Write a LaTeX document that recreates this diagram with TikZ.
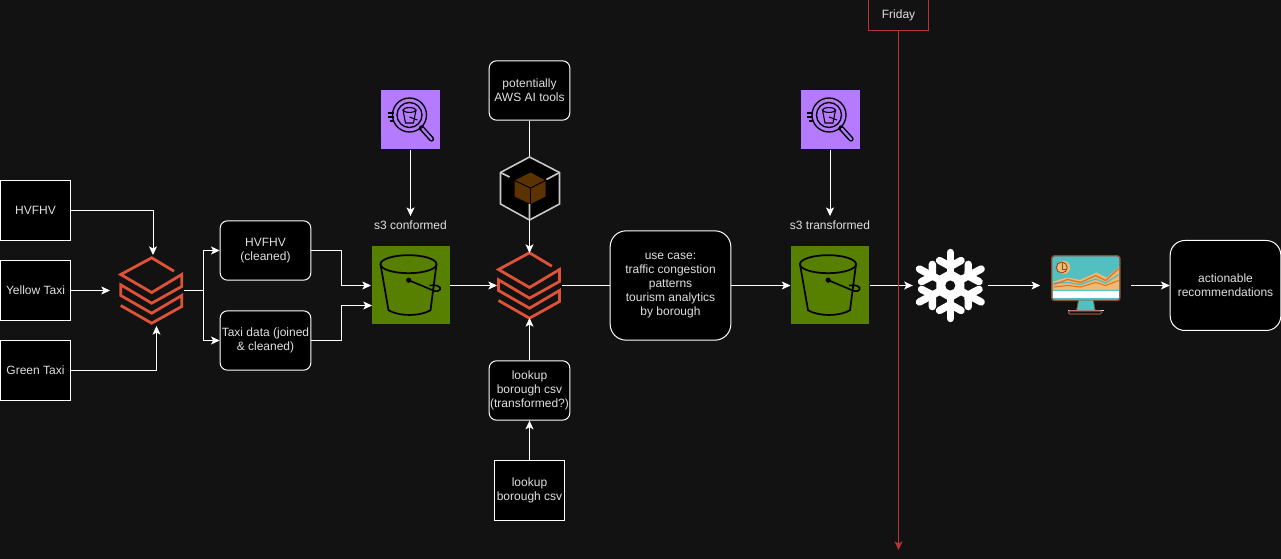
\documentclass[tikz,border=0pt]{standalone}
\usepackage{fontspec}
\setmainfont{Liberation Sans}
\usepackage{tikz}
\usetikzlibrary{arrows,arrows.meta}

\definecolor{bgdark}{HTML}{121212}
\definecolor{labelgrey}{HTML}{E0E0E0}
\definecolor{hexgrey}{HTML}{C8C8C8}
\definecolor{dbred}{HTML}{DE5238}
\definecolor{bucketgreen}{HTML}{577F00}
\definecolor{searchpurple}{HTML}{B57BFF}
\definecolor{cubebrown}{HTML}{5C3200}
\definecolor{fridayred}{HTML}{B83434}
\definecolor{screenteal}{HTML}{52BFC0}
\definecolor{screenbrown}{HTML}{8A4A2E}
\definecolor{screensand}{HTML}{F0B870}
\definecolor{screenorange}{HTML}{D9782B}

\tikzset{
  txt/.style={text=labelgrey,font=\fontsize{9}{10.5}\selectfont,align=center},
  sqbox/.style={txt,draw=white,fill=black,line width=0.75pt,minimum width=52.5pt,minimum height=44.5pt,inner sep=0pt},
  rbox/.style={sqbox,rounded corners=5.5pt,minimum width=60.5pt},
  icon/.style={inner sep=0pt,minimum width=#1*0.75pt,minimum height=#1*0.75pt},
  every pic/.style={-},
  pics/databricks/.style={code={
    \draw[dbred,line width=2.1pt,miter limit=4]
      (22.3,-19.3) -- (0,-32.7) -- (-31,-16) -- (0,2) -- (30,-16) -- (30,-4) -- (0,12.7)
      -- (-31,-5.7) -- (-31,5) -- (0,22.7) -- (30,5) -- (30,16) -- (0,32.7) -- (-31,15);
  }},
  pics/bucket/.style={code={
    \fill[bucketgreen] (-39,-39) rectangle (39,39);
    \draw[black,line width=1.3pt] (-2,-21.3) ellipse [x radius=28,y radius=9];
    \draw[black,line width=1.3pt] (-30,-21.3) -- (-22,24.7) .. controls (-12,31) and (10,31) .. (20,24.7) -- (26,-21.3);
    \fill[black] (-1.8,-5.3) circle (2.6);
    \draw[black,line width=1.2pt] (-1.8,-5.3) -- (23.5,5.3) .. controls (30,7) and (32,2) .. (27,0.3) .. controls (25,-0.5) and (22,-0.5) .. (19,0);
  }},
  pics/search/.style={code={
    \fill[searchpurple] (-29.5,-29.5) rectangle (29.5,29.5);
    \draw[black,line width=1pt] (-1,-5) circle (17);
    \draw[black,line width=1pt] (-1,-5) circle (12.5);
    \draw[black,line width=4pt,line cap=round] (11,8) -- (21,19);
    \draw[searchpurple,line width=1.7pt,line cap=round] (12,9) -- (21,19);
    \draw[black,line width=0.8pt] (-7.5,-10) -- (-5,3) -- (3,3) -- (5.5,-10);
    \draw[black,line width=0.8pt] (-1,-10) ellipse [x radius=6.5,y radius=2.4];
    \draw[black,line width=0.8pt] (-1,-3) -- (7,0);
    \foreach \yy/\xx in {-7/-23,-3/-23,1/-21}
      \draw[black,line width=0.8pt] (\xx,\yy) -- (-17,\yy);
  }},
  pics/modelcube/.style={code={
    \fill[black] (0,-31) -- (30,-15.5) -- (30,16) -- (0,32) -- (-29,16) -- (-29,-15.5) -- cycle;
    \draw[hexgrey,line width=1.2pt] (0,-31) -- (30,-15.5) -- (30,16) -- (0,32) -- (-29,16) -- (-29,-15.5) -- cycle;
    \draw[hexgrey,line width=1.2pt] (-29,-15.5) -- (-20,-11) (30,-15.5) -- (17,-8.5) (0,16) -- (0,32);
    \fill[cubebrown] (1,-15.5) -- (16,-7.5) -- (16,8.5) -- (1,16) -- (-15,8.5) -- (-15,-7.5) -- cycle;
    \draw[black,line width=0.7pt] (-15,-7.5) -- (1,0) -- (16,-7.5) (1,0) -- (1,16);
  }},
  pics/snowflake/.style={code={
    \fill[white] (0,-16) -- (14,-8) -- (14,8) -- (0,16) -- (-14,8) -- (-14,-8) -- cycle;
    \foreach \ang in {0,60,...,300}{
      \begin{scope}[xscale=1.08,rotate=\ang]
        \draw[white,line width=5.5pt,line cap=round,line join=round] (0,0) -- (0,-33);
        \draw[white,line width=5.5pt,line cap=round,line join=round] (-10,-25) -- (0,-19) -- (10,-25);
      \end{scope}
    }
    \fill[bgdark] (0,0) circle (5);
  }},
  pics/monitor/.style={code={
    \fill[screenteal,rounded corners=2pt] (-34,-29.7) rectangle (34.3,15);
    \fill[screensand] (-32.3,-4) -- (-19,-8) -- (-5.7,-5.7) -- (11,-13) -- (21,-8) -- (33.7,-19) -- (33.7,4.3) -- (-32.3,4.3) -- cycle;
    \fill[white] (-32.3,5.3) rectangle (33,12.7);
    \draw[screenteal,line width=1pt] (-32,-2.5) -- (-18,-3) -- (-5,-1) -- (10,-6.5) -- (20,-2.5) -- (33,-11);
    \draw[screenorange,line width=1pt] (-32,-1) -- (-18,-6) -- (-5,-3) -- (10,-10) -- (20,-5) -- (33,-17);
    \draw[screenorange,line width=0.8pt] (-32,1.5) -- (-18,0) -- (-5,1.5) -- (10,-3) -- (20,0) -- (33,-5);
    \fill[screensand] (-22.3,-18) circle (6.7);
    \draw[screenbrown,line width=0.7pt] (-24,-18) circle (5.5);
    \draw[screenbrown,line width=0.7pt] (-23,-22) -- (-23,-16) -- (-19,-16);
    \draw[screenbrown,line width=1pt,rounded corners=2pt] (-34,-29.7) rectangle (34.3,15);
    \fill[screenteal] (-7.3,15) -- (7.7,15) -- (9.3,24.3) -- (-9,24.3) -- cycle;
    \draw[screenbrown,line width=0.6pt] (-7.3,15) -- (-9,24.3) (7.7,15) -- (9.3,24.3);
    \fill[labelgrey] (-17.3,24.3) rectangle (18,26);
    \draw[screenbrown,line width=0.9pt,rounded corners=1pt] (-17.3,25.5) rectangle (16,28.5);
  }}
}

\begin{document}
\begin{tikzpicture}[x=0.75pt,y=-0.75pt,->,>={Stealth[inset=1.6pt,length=6.5pt,width=6pt]},line width=0.75pt,white]
  \useasboundingbox (0,0) rectangle (1281,559);
  \fill[bgdark] (0,0) rectangle (1281,559);

  % sources
  \node[sqbox](hvfhv) at (35.5,210.5){HVFHV};
  \node[sqbox](yellow) at (35.5,290.5){Yellow Taxi};
  \node[sqbox](green) at (35.5,370.5){Green Taxi};

  % first notebook and its outputs
  \node[icon=64](db1) at (151.7,290.5){};
  \pic at (db1.center) {databricks};
  \node[rbox,minimum width=68pt](hvclean) at (265.5,250.5){HVFHV\\(cleaned)};
  \node[rbox,minimum width=68pt](taxidata) at (265.5,340.5){Taxi data (joined\\\& cleaned)};

  % conformed
  \node[icon=78](bucket1) at (410.5,285.5){};
  \pic at (bucket1.center) {bucket};
  \node[icon=59](search1) at (410.5,120){};
  \pic at (search1.center) {search};
  \node[txt,inner sep=3pt](conformed) at (410.5,225){s3 conformed};

  % second notebook
  \node[icon=64](db2) at (529.5,285.5){};
  \pic at (db2.center) {databricks};
  \node[rbox](aitools) at (529.5,90.5){potentially\\AWS AI tools};
  \node[icon=63](cube) at (529.5,188){};
  \pic at (cube.center) {modelcube};
  \node[rbox](lookupt) at (529.5,390.5){lookup\\borough csv\\(transformed?)};
  \node[sqbox](lookup) at (529.5,490.5){lookup\\borough csv};
  \node[rbox,rounded corners=12pt,minimum width=90.5pt,minimum height=82pt](usecase) at (670.5,285.5){use case:\\traffic congestion\\patterns\\tourism analytics\\by borough};

  % transformed
  \node[icon=78](bucket2) at (830,285.5){};
  \pic at (bucket2.center) {bucket};
  \node[icon=59](search2) at (830,120){};
  \pic at (search2.center) {search};
  \node[txt,inner sep=3pt](transformed) at (830,225){s3 transformed};

  % serving
  \node[icon=74](snow) at (950.3,285.5){};
  \pic at (snow.center) {snowflake};
  \node[icon=90](screen) at (1085.7,285.5){};
  \pic at (screen.center) {monitor};
  \node[rbox,rounded corners=11pt,minimum width=83pt,minimum height=67.5pt](actions) at (1225.5,285.5){actionable\\recommendations};

  \node[txt,draw=fridayred,minimum width=45pt,minimum height=23.25pt,inner sep=0pt](friday) at (898.5,15){Friday};

  % free ends
  \coordinate(db1top) at (153,255);
  \coordinate(db1left) at (110,290.5);
  \coordinate(db1bot) at (156.5,326);
  \coordinate(split) at (203,290.5);
  \coordinate(bucket1low) at (372,305.5);
  \coordinate(fridayend) at (898.5,550);

  \draw (hvfhv.east) -| (db1top);
  \draw (yellow.east) -- (db1left);
  \draw (green.east) -| (db1bot);
  \draw[-] (db1.east) -- (split);
  \draw (split) |- (hvclean.west);
  \draw (split) |- (taxidata.west);
  \draw (hvclean.east) -- ++(30,0) |- (bucket1.west);
  \draw (taxidata.east) -- ++(30,0) |- (bucket1low);
  \draw (search1.south) -- (conformed.north);
  \draw (bucket1.east) -- (db2.west);
  \draw[-] (aitools.south) -- (cube.north);
  \draw (cube.south) -- (db2.north);
  \draw (lookup.north) -- (lookupt.south);
  \draw (lookupt.north) -- (db2.south);
  \draw[-] (db2.east) -- (usecase.west);
  \draw (usecase.east) -- (bucket2.west);
  \draw (search2.south) -- (transformed.north);
  \draw (bucket2.east) -- (snow.west);
  \draw (snow.east) -- (screen.west);
  \draw (screen.east) -- (actions.west);
  \draw[fridayred] (friday.south) -- (fridayend);
\end{tikzpicture}
\end{document}
